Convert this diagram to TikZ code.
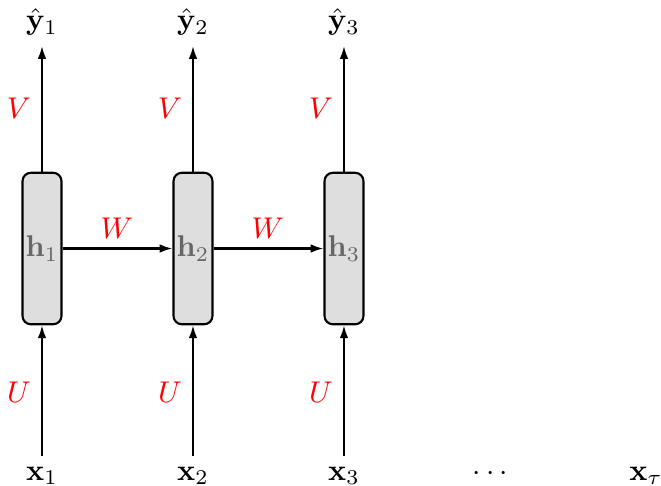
\documentclass[tikz,border=0pt]{standalone}
\usepackage{amsmath,bm}
\usetikzlibrary{arrows.meta}
\begin{document}
\begin{tikzpicture}[x=0.3333pt,y=-0.3333pt,
  hbox/.style={draw,line width=0.7pt,rounded corners=2.8pt,fill=black!13,minimum width=13pt,minimum height=50.5pt,inner sep=0pt,text=black!60},
  lbl/.style={inner sep=3.3pt},
  wt/.style={text=red},
  conn/.style={line width=0.7pt,-{Latex[length=4.3pt,width=2.9pt]}}]
\useasboundingbox (0,0) rectangle (661,485);
\foreach \i/\cx in {1/42,2/193,3/344}{
  \node[hbox] (h\i) at (\cx,248.5) {$\mathbf{h}_{\i}$};
  \node[lbl,anchor=base] (x\i) at (\cx,480) {$\mathbf{x}_{\i}$};
  \node[lbl] (y\i) at (\cx,22) {$\hat{\mathbf{y}}_{\i}$};
  \draw[conn] (x\i) -- (h\i);
  \draw[conn] (h\i) -- (y\i);
  \node[wt] (v\i) at (\cx-23,108) {$V$};
  \node[wt] (u\i) at (\cx-23,392.5) {$U$};
}
\draw[conn] (h1) -- (h2);
\draw[conn] (h2) -- (h3);
\node[wt] (w1) at (117,228.5) {$W$};
\node[wt] (w2) at (268,228.5) {$W$};
\node[lbl,anchor=base] (dots) at (493,480) {$\cdots$};
\node[lbl,anchor=base] (xt) at (646,480) {$\mathbf{x}_{\tau}$};
\end{tikzpicture}
\end{document}
